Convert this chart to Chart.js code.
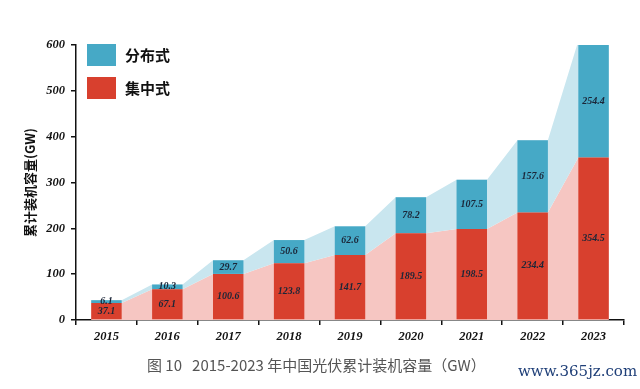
<!DOCTYPE html>
<html>
<head>
<meta charset="utf-8">
<script src="https://cdn.jsdelivr.net/npm/chart.js@4"></script>
<style>
  body { margin: 0; background: #fff; }
  #wrap { position: relative; width: 640px; height: 389px; }
  .lg { position: absolute; left: 87px; width: 29px; height: 22px; }
  .lgt { position: absolute; left: 125px; font: bold 15px "Noto Sans CJK SC"; color: #111; line-height: 22px; }
  #cap { position: absolute; left: 147px; top: 354px; font: 15px "Noto Sans CJK SC"; color: #555; white-space: pre; }
  #wm { position: absolute; left: 518px; top: 362px; font: 15px "DejaVu Serif"; color: #1f3f78; }
</style>
</head>
<body>
<div id="wrap">
  <canvas id="myChart" width="640" height="389"></canvas>
  <div class="lg" style="top:44px;background:#46a9c6"></div>
  <div class="lgt" style="top:44px">分布式</div>
  <div class="lg" style="top:77px;background:#d8402e"></div>
  <div class="lgt" style="top:77px">集中式</div>
  <div id="cap">图 10   2015-2023 年中国光伏累计装机容量（GW）</div>
  <div id="wm">www.365jz.com</div>
</div>
<script>
const years = ['2015', '2016', '2017', '2018', '2019', '2020', '2021', '2022', '2023'];
const centralized = [37.1, 67.1, 100.6, 123.8, 141.7, 189.5, 198.5, 234.4, 354.5];
const distributed = [6.1, 10.3, 29.7, 50.6, 62.6, 78.2, 107.5, 157.6, 254.4];
const yTicks = [0, 100, 200, 300, 400, 500, 600];

const serif = 'Liberation Serif';

// filled bands joining the bar tops
const bands = {
  id: 'bands',
  beforeDatasetsDraw(chart) {
    const c = chart.ctx;
    const a = chart.chartArea;
    const red = chart.getDatasetMeta(0).data;
    const blue = chart.getDatasetMeta(1).data;
    const base = chart.scales.y.getPixelForValue(0);
    c.save();
    c.beginPath();
    c.rect(a.left, a.top, a.right - a.left, a.bottom - a.top);
    c.clip();
    // pink under the red tops
    c.beginPath();
    red.forEach((b, i) => {
      const l = b.x - b.width / 2, r = b.x + b.width / 2;
      if (i === 0) c.moveTo(l, b.y); else c.lineTo(l, b.y);
      c.lineTo(r, b.y);
    });
    c.lineTo(red[red.length - 1].x + red[red.length - 1].width / 2, base);
    c.lineTo(red[0].x - red[0].width / 2, base);
    c.closePath();
    c.fillStyle = '#f6c6c2';
    c.fill();
    // light blue between red tops and total tops
    c.beginPath();
    blue.forEach((b, i) => {
      const l = b.x - b.width / 2, r = b.x + b.width / 2;
      if (i === 0) c.moveTo(l, b.y); else c.lineTo(l, b.y);
      c.lineTo(r, b.y);
    });
    for (let i = red.length - 1; i >= 0; i--) {
      const b = red[i];
      c.lineTo(b.x + b.width / 2, b.y);
      c.lineTo(b.x - b.width / 2, b.y);
    }
    c.closePath();
    c.fillStyle = '#c9e6ef';
    c.fill();
    c.restore();
  }
};

const valueLabels = {
  id: 'valueLabels',
  afterDatasetsDraw(chart) {
    const c = chart.ctx;
    const top = chart.chartArea.top;
    c.save();
    c.font = 'italic bold 10px "' + serif + '"';
    c.fillStyle = '#1b2638';
    c.textAlign = 'center';
    c.textBaseline = 'middle';
    chart.data.datasets.forEach((ds, di) => {
      chart.getDatasetMeta(di).data.forEach((b, i) => {
        c.fillText(ds.data[i].toFixed(1), b.x, (Math.max(b.y, top) + b.base) / 2);
      });
    });
    c.restore();
  }
};

const ctx = document.getElementById('myChart');

new Chart(ctx, {
  type: 'bar',
  data: {
    labels: years,
    datasets: [
      {
        label: '集中式',
        data: centralized,
        backgroundColor: '#d8402e',
        barPercentage: 0.5,
        categoryPercentage: 1
      },
      {
        label: '分布式',
        data: distributed,
        backgroundColor: '#46a9c6',
        barPercentage: 0.5,
        categoryPercentage: 1
      }
    ]
  },
  plugins: [bands, valueLabels],
  options: {
    responsive: false,
    animation: false,
    layout: { padding: { top: 45, right: 16, left: 0, bottom: 0 } },
    plugins: {
      legend: { display: false },
      tooltip: { enabled: false }
    },
    scales: {
      x: {
        stacked: true,
        afterFit(s) { s.height = 69; },
        border: { color: '#111', width: 1.5 },
        grid: { offset: true, drawOnChartArea: false, tickLength: 5, color: '#111', lineWidth: 1.5 },
        ticks: {
          color: '#111',
          padding: 4,
          font: { family: serif, size: 12.5, style: 'italic', weight: 'bold' }
        }
      },
      y: {
        stacked: true,
        min: 0,
        max: 600,
        afterFit(s) { s.width = 76; },
        afterBuildTicks(s) { s.ticks = yTicks.map(v => ({ value: v })); },
        border: { color: '#111', width: 1.5 },
        grid: { drawOnChartArea: false, tickLength: 5, color: '#111', lineWidth: 1.5 },
        ticks: {
          color: '#111',
          padding: 6,
          font: { family: serif, size: 12.5, style: 'italic', weight: 'bold' }
        },
        title: {
          display: true,
          text: '累计装机容量(GW)',
          color: '#111',
          padding: { top: 22, bottom: 0 },
          font: { family: 'Noto Sans CJK SC', size: 13, weight: 'bold' }
        }
      }
    }
  }
});
</script>
</body>
</html>
